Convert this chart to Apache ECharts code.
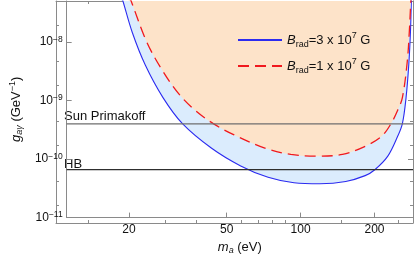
<!DOCTYPE html>
<html><head><meta charset="utf-8">
<script src="https://cdn.jsdelivr.net/npm/echarts@6/dist/echarts.min.js"></script>
<style>html,body{margin:0;padding:0;background:#fff}#c{width:415px;height:260px}</style>
</head><body><div id="c"></div><script>
// ---- data ----
const massBlue = [18.52, 18.83, 20.62, 23.29, 27.5, 33.0, 43.4, 57.0, 73.7, 94.0, 119.9, 152.7, 183.2, 200.6, 226.6, 248.3, 259.8, 268.9, 275.9, 280.2, 282.8, 283.9];
const gBlue    = [6.3e-8, 5.2e-8, 1.45e-8, 4.03e-9, 1.12e-9, 4.03e-10, 1.53e-10, 7.64e-11, 4.88e-11, 3.94e-11, 3.79e-11, 4.14e-11, 5.21e-11, 6.56e-11, 1.12e-10, 2.42e-10, 4.03e-10, 1.12e-9, 4.14e-9, 1.47e-8, 5.2e-8, 6.3e-8];
const massRed  = [19.92, 20.32, 23.63, 27.5, 32.03, 37.25, 44.05, 53.6, 71.5, 91.2, 116.2, 148.2, 183.2, 213.3, 233.6, 248.3, 259.8, 271.9, 277.6, 281.4, 282.8];
const gRed     = [6.3e-8, 5.2e-8, 9.9e-9, 3.13e-9, 1.27e-9, 6.74e-10, 4.03e-10, 2.58e-10, 1.54e-10, 1.20e-10, 1.12e-10, 1.20e-10, 1.65e-10, 2.42e-10, 4.03e-10, 6.74e-10, 1.12e-9, 4.59e-9, 1.65e-8, 5.2e-8, 6.3e-8];
const sunLevel = 4.0e-10;
const hbLevel = 6.6e-11;
const seriesNames = ['Brad=3 x 10^7 G', 'Brad=1 x 10^7 G'];
const refNames = ['Sun Primakoff', 'HB'];
const xMajorTicks = [20, 50, 100, 200];
const xMinorTicks = [15, 30, 40, 60, 70, 80, 90, 150, 250];
const yMajorTicks = [1e-11, 1e-10, 1e-9, 1e-8];
const yMinorTicks = [2e-11, 5e-11, 2e-10, 5e-10, 2e-9, 5e-9, 2e-8];
const X_MIN = 11.14, X_MAX = 287, Y_MIN = 1e-11, Y_MAX = 5e-8;

// logarithmic axes: the library's value axes run over log10 of the data
const L = Math.log10;
const FONT = '"Liberation Sans", Arial, sans-serif';
const FRAME = '#8a8a8a';
const pairs = (xs, ys) => xs.map((x, i) => [L(x), L(ys[i])]);

const gridRect = {left: 56, right: 2, top: 1, bottom: 37};
function xAx(grid, pos, ticks, len, label) {
  return {type: 'value', min: L(X_MIN), max: L(X_MAX), gridIndex: grid, position: pos,
    axisLine: {show: true, onZero: false, lineStyle: {color: FRAME, width: 1}},
    axisTick: {show: true, inside: true, length: len, customValues: ticks.map(L), lineStyle: {color: FRAME}},
    axisLabel: {show: label, customValues: ticks.map(L), color: '#111', fontFamily: FONT, fontSize: 12, margin: 6,
      formatter: v => String(Math.round(Math.pow(10, v)))},
    splitLine: {show: false},
    name: label ? '{i|m}{s|a} (eV)' : '', nameLocation: 'middle', nameGap: 20,
    nameTextStyle: {color: '#111', fontFamily: FONT, fontSize: 13, rich: {
      i: {fontStyle: 'italic', fontSize: 13, fontFamily: FONT, color: '#111', lineHeight: 16},
      s: {fontStyle: 'italic', fontSize: 9, fontFamily: FONT, color: '#111', verticalAlign: 'bottom', lineHeight: 10}
    }}
  };
}
function yAx(grid, pos, ticks, len, label) {
  return {type: 'value', min: L(Y_MIN), max: L(Y_MAX), gridIndex: grid, position: pos,
    axisLine: {show: true, onZero: false, lineStyle: {color: FRAME, width: 1}},
    axisTick: {show: true, inside: true, length: len, customValues: ticks.map(L), lineStyle: {color: FRAME}},
    axisLabel: {show: label, customValues: ticks.map(L), color: '#111', fontFamily: FONT, fontSize: 12, margin: 4,
      formatter: v => '{m|10}{p|\u2212' + Math.abs(Math.round(v)) + '}',
      rich: {
        m: {fontSize: 12, fontFamily: FONT, color: '#111', lineHeight: 14},
        p: {fontSize: 8.5, fontFamily: FONT, color: '#111', verticalAlign: 'top', lineHeight: 9}
      }},
    splitLine: {show: false},
    name: label ? '{i|g}{s|a\u03b3} (GeV{p|\u22121})' : '', nameLocation: 'middle', nameGap: 37, nameRotate: 90,
    nameTextStyle: {color: '#111', fontFamily: FONT, fontSize: 13, rich: {
      i: {fontStyle: 'italic', fontSize: 13, fontFamily: FONT, color: '#111', lineHeight: 16},
      s: {fontStyle: 'italic', fontSize: 9, fontFamily: FONT, color: '#111', verticalAlign: 'bottom', lineHeight: 10},
      p: {fontSize: 9, fontFamily: FONT, color: '#111', verticalAlign: 'top', lineHeight: 10}
    }}
  };
}

const legendRich = {
  b: {fontStyle: 'italic', fontSize: 13, fontFamily: FONT, color: '#111', lineHeight: 18},
  s: {fontSize: 9, fontFamily: FONT, color: '#111', verticalAlign: 'bottom', lineHeight: 11},
  t: {fontSize: 13, fontFamily: FONT, color: '#111', lineHeight: 18},
  p: {fontSize: 9, fontFamily: FONT, color: '#111', verticalAlign: 'top', lineHeight: 11}
};
function legendText(name) {
  const m = name.match(/^Brad(=\d x 10)\^(\d) G$/);
  return '{b|B}{s|rad}{t|' + m[1] + '}{p|' + m[2] + '}{t| G}';
}

const option = {
  animation: false,
  backgroundColor: '#fff',
  grid: [Object.assign({}, gridRect), Object.assign({}, gridRect)],
  xAxis: [xAx(0, 'bottom', xMajorTicks, 5, true), xAx(0, 'top', xMajorTicks, 5, false),
          xAx(1, 'bottom', xMinorTicks, 3, false), xAx(1, 'top', xMinorTicks, 3, false)],
  yAxis: [yAx(0, 'left', yMajorTicks, 5, true), yAx(0, 'right', yMajorTicks, 5, false),
          yAx(1, 'left', yMinorTicks, 3, false), yAx(1, 'right', yMinorTicks, 3, false)],
  legend: {
    orient: 'vertical', left: 232, top: 26, itemWidth: 44, itemHeight: 14, itemGap: 8,
    data: seriesNames, formatter: legendText, textStyle: {rich: legendRich, fontFamily: FONT},
    itemStyle: {opacity: 0}
  },
  series: [
    {name: seriesNames[0], type: 'line', xAxisIndex: 0, yAxisIndex: 0, data: pairs(massBlue, gBlue),
     smooth: 0.35, symbol: 'none', clip: true,
     lineStyle: {color: '#2b2bf0', width: 1.1}, itemStyle: {color: '#2b2bf0'},
     areaStyle: {origin: 'end', color: '#dbecfd', opacity: 1}, z: 2},
    {name: seriesNames[1], type: 'line', xAxisIndex: 0, yAxisIndex: 0, data: pairs(massRed, gRed),
     smooth: 0.35, symbol: 'none', clip: true,
     lineStyle: {color: '#f0191e', width: 1.3, type: [11, 6]}, itemStyle: {color: '#f0191e'},
     areaStyle: {origin: 'end', color: '#fde3c9', opacity: 1}, z: 3},
    {name: refNames[0], type: 'line', xAxisIndex: 0, yAxisIndex: 0, data: [[L(X_MIN), L(sunLevel)], [L(X_MAX), L(sunLevel)]],
     symbol: 'none', lineStyle: {color: '#6e6e6e', width: 1.3}, z: 4, silent: true},
    {name: refNames[1], type: 'line', xAxisIndex: 0, yAxisIndex: 0, data: [[L(X_MIN), L(hbLevel)], [L(X_MAX), L(hbLevel)]],
     symbol: 'none', lineStyle: {color: '#2e2e2e', width: 1.1}, z: 4, silent: true}
  ],
  graphic: [
    {type: 'text', left: 64, top: 110, style: {text: refNames[0], font: '13px ' + FONT, fill: '#111'}},
    {type: 'text', left: 64, top: 158, style: {text: refNames[1], font: '13px ' + FONT, fill: '#111'}}
  ]
};
const chart = echarts.init(document.getElementById('c'), null, {renderer: 'canvas'});
chart.setOption(option);
</script></body></html>
